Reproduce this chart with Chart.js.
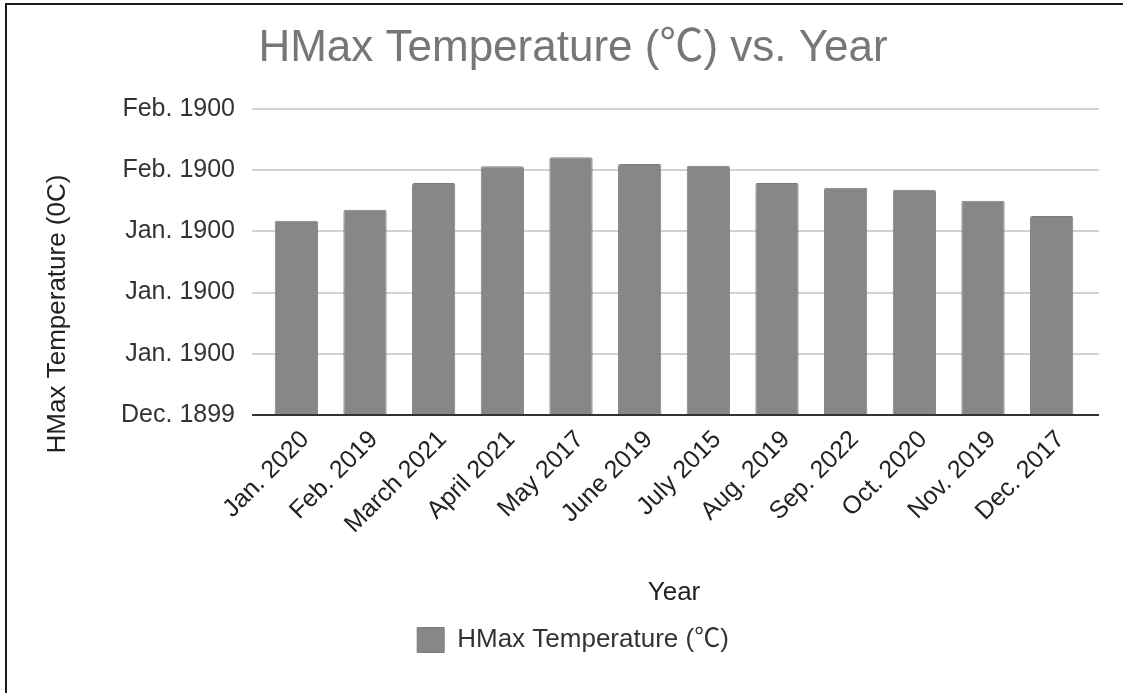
<!DOCTYPE html>
<html>
<head>
<meta charset="utf-8">
<script src="https://cdn.jsdelivr.net/npm/chart.js@4/dist/chart.umd.min.js"></script>
<style>
  html, body { margin: 0; padding: 0; background: #fff; }
  #wrap { position: relative; width: 1123px; height: 693px; }
  #frame {
    position: absolute; left: 5px; top: 3px; right: 0; bottom: 0;
    border-top: 2px solid #1a1a1a; border-left: 2px solid #1a1a1a;
    pointer-events: none;
  }
</style>
</head>
<body>
<div id="wrap">
  <canvas id="chartCanvas" width="1123" height="693"></canvas>
  <div id="frame"></div>
</div>
<script>
// maanederne og temperaturerne
const months = ['Jan. 2020', 'Feb. 2019', 'March 2021', 'April 2021', 'May 2017', 'June 2019',
  'July 2015', 'Aug. 2019', 'Sep. 2022', 'Oct. 2020', 'Nov. 2019', 'Dec. 2017']
const hmaxTemps = [31.7, 33.5, 37.9, 40.6, 42.1, 41.0, 40.7, 37.9, 37.1, 36.8, 35.0, 32.5]

// y-aksen er formateret som datoer i arket, derfor de maerkelige labels
const yTickValues = [0, 10, 20, 30, 40, 50]
const yTickLabels = ['Dec. 1899', 'Jan. 1900', 'Jan. 1900', 'Jan. 1900', 'Feb. 1900', 'Feb. 1900']

const seriesName = 'HMax Temperature (\u2103)'
const yTitle = 'HMax Temperature (0C)'
const xTitle = 'Year'

const fontFamily = '"Liberation Sans", Arial, "Noto Sans CJK SC", sans-serif'
const barColor = '#878787'

// gitterlinjerne går lidt ud over selve plot-området, og bundlinjen er mørk
const gridPlugin = {
  id: 'sheetGrid',
  beforeDatasetsDraw(chart) {
    const { ctx, chartArea, scales: { y } } = chart
    ctx.save()
    ctx.strokeStyle = '#d2d2d2'
    ctx.lineWidth = 2
    yTickValues.forEach(v => {
      if (v === 0) return
      const py = Math.round(y.getPixelForValue(v))
      ctx.beginPath()
      ctx.moveTo(chartArea.left - 10, py)
      ctx.lineTo(chartArea.right + 13, py)
      ctx.stroke()
    })
    ctx.restore()
  },
  afterDatasetsDraw(chart) {
    const { ctx, chartArea, scales: { y } } = chart
    const py = Math.round(y.getPixelForValue(0))
    ctx.save()
    ctx.strokeStyle = '#333'
    ctx.lineWidth = 2
    ctx.beginPath()
    ctx.moveTo(chartArea.left - 10, py)
    ctx.lineTo(chartArea.right + 13, py)
    ctx.stroke()

    // y-aksens titel, centreret lidt under midten ligesom i Sheets
    ctx.translate(chartArea.left - 204, chartArea.bottom - 101)
    ctx.rotate(-Math.PI / 2)
    ctx.font = '26px ' + fontFamily
    ctx.fillStyle = '#222'
    ctx.textAlign = 'center'
    ctx.textBaseline = 'middle'
    ctx.fillText(yTitle, 0, 0)
    ctx.restore()
  }
}

let chart = new Chart(document.getElementById('chartCanvas'), {
  type: 'bar',
  data: {
    labels: months,
    datasets: [{
      label: seriesName,
      data: hmaxTemps,
      backgroundColor: barColor,
      borderColor: '#7c7c7c',
      borderWidth: 1,
      borderRadius: 2,
      borderSkipped: 'bottom',
      categoryPercentage: 1,
      barPercentage: 0.63
    }]
  },
  options: {
    responsive: false,
    animation: false,
    layout: { padding: { left: 60, right: 37, top: 0, bottom: 30 } },
    plugins: {
      title: {
        display: true,
        text: 'HMax Temperature (\u2103) vs. Year',
        color: '#777',
        font: { family: fontFamily, size: 44, weight: 'normal' },
        padding: { top: 22, bottom: 34 }
      },
      legend: {
        position: 'bottom',
        labels: {
          color: '#333',
          font: { family: fontFamily, size: 26 },
          boxWidth: 27,
          boxHeight: 25,
          padding: 10
        }
      },
      tooltip: { enabled: false }
    },
    scales: {
      x: {
        grid: { display: false },
        border: { display: false },
        ticks: {
          color: '#222',
          font: { family: fontFamily, size: 25 },
          minRotation: 45,
          maxRotation: 45,
          autoSkip: false,
          padding: 2,
          labelOffset: 9
        },
        title: {
          display: true,
          text: xTitle,
          color: '#222',
          font: { family: fontFamily, size: 26 },
          padding: { top: 0, bottom: 9 }
        },
        afterFit(scale) { scale.height = 202 }
      },
      y: {
        min: 0,
        max: 50,
        grid: { display: false, drawTicks: false },
        border: { display: false },
        ticks: {
          stepSize: 10,
          color: '#333',
          font: { family: fontFamily, size: 25 },
          padding: 27,
          callback: (value, index) => yTickLabels[index]
        },
        afterFit(scale) { scale.width = 202 }
      }
    }
  },
  plugins: [gridPlugin]
})
</script>
</body>
</html>
